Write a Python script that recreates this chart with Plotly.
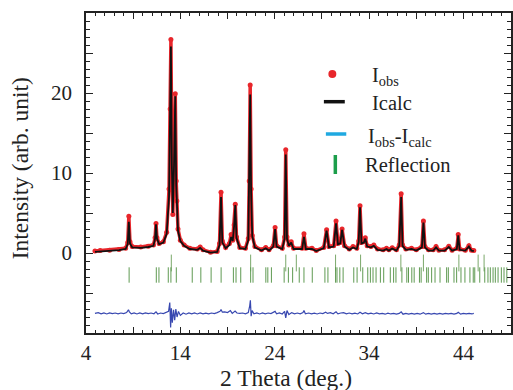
import plotly.graph_objects as go

# ---------------- data ----------------
two_theta = [4.95, 5.5, 6.5, 7.5, 8.2, 8.42, 8.54, 8.66, 8.9, 9.8, 10.6, 11.15, 11.32, 11.42, 11.52,
             11.75, 12.2, 12.55, 12.8, 12.92, 13.0, 13.1, 13.2, 13.33, 13.46, 13.56, 13.63, 13.75,
             14.0, 14.4, 15.0, 15.8, 16.1, 16.4, 17.2, 17.9, 18.15, 18.31, 18.45, 18.8, 19.2, 19.38,
             19.55, 19.7, 19.82, 19.95, 20.3, 20.9, 21.2, 21.3, 21.4, 21.5, 21.62, 21.9, 22.6, 23.05,
             23.4, 23.85, 24.04, 24.2, 24.8, 25.05, 25.17, 25.3, 25.5, 25.75, 26.0, 26.9, 27.1, 27.3,
             27.95, 28.4, 29.2, 29.5, 29.75, 30.25, 30.5, 30.7, 30.95, 31.14, 31.4, 31.9, 32.3, 32.7,
             32.9, 33.04, 33.2, 33.45, 33.6, 33.8, 34.2, 34.5, 34.9, 35.5, 35.85, 36.1, 36.45, 36.9,
             37.2, 37.4, 37.55, 37.9, 38.5, 39.0, 39.6, 39.76, 39.92, 40.3, 40.8, 41.1, 41.4, 42.0,
             42.45, 42.8, 43.3, 43.45, 43.6, 44.2, 44.58, 44.85, 45.1]
i_obs = [0.25, 0.3, 0.35, 0.45, 0.6, 1.3, 4.6, 1.4, 0.8, 0.75, 0.85, 1.0, 1.9, 3.7, 1.9,
         1.2, 1.4, 2.6, 8.0, 18.0, 26.7, 12.0, 4.8, 10.5, 19.9, 9.0, 6.5, 3.0,
         1.6, 1.0, 0.6, 0.5, 0.75, 0.4, 0.1, 0.2, 1.2, 7.6, 1.5, 0.7, 1.2, 2.3,
         1.6, 3.5, 6.1, 2.0, 0.7, 0.6, 1.8, 9.0, 21.0, 8.0, 2.2, 0.8, 0.4, 0.7,
         0.4, 0.9, 3.2, 0.9, 0.6, 2.0, 12.9, 2.0, 1.0, 1.4, 0.6, 0.6, 2.4, 0.6,
         0.6, 0.3, 0.7, 2.9, 0.8, 0.9, 4.0, 1.2, 1.3, 3.0, 0.9, 0.5, 0.8, 0.6,
         1.5, 5.9, 1.3, 1.4, 1.9, 0.9, 0.8, 1.0, 0.5, 0.4, 0.6, 0.4, 0.65, 0.4,
         1.0, 7.4, 1.0, 0.5, 0.6, 0.4, 0.8, 4.0, 0.8, 0.4, 0.4, 0.8, 0.35, 0.4,
         0.85, 0.35, 0.6, 2.3, 0.5, 0.35, 0.9, 0.35, 0.3]
i_calc = [0.15, 0.2, 0.25, 0.35, 0.5, 1.1, 3.9, 1.2, 0.7, 0.65, 0.75, 0.9, 1.8, 3.6, 1.8,
          1.1, 1.3, 2.4, 7.0, 17.0, 25.8, 11.0, 5.0, 11.0, 19.6, 8.5, 6.2, 2.8,
          1.5, 0.9, 0.5, 0.4, 0.65, 0.3, 0.05, 0.15, 1.0, 7.0, 1.3, 0.6, 1.0, 2.0,
          1.5, 3.4, 6.0, 1.9, 0.6, 0.5, 1.6, 8.5, 19.8, 7.5, 2.1, 0.7, 0.3, 0.6,
          0.3, 0.8, 3.0, 0.8, 0.5, 1.8, 12.3, 1.8, 0.9, 1.3, 0.5, 0.5, 2.0, 0.5,
          0.5, 0.25, 0.6, 2.8, 0.7, 0.8, 3.7, 1.1, 1.2, 2.9, 0.8, 0.4, 0.7, 0.5,
          1.4, 5.7, 1.2, 1.3, 1.8, 0.8, 0.7, 0.9, 0.4, 0.3, 0.5, 0.3, 0.55, 0.3,
          0.9, 7.0, 0.9, 0.4, 0.5, 0.3, 0.7, 3.8, 0.7, 0.3, 0.3, 0.7, 0.3, 0.3,
          0.75, 0.3, 0.5, 2.2, 0.4, 0.3, 0.8, 0.3, 0.25]

diff_theta = [4.95, 5.3, 5.6, 5.9, 6.2, 6.5, 6.8, 7.1, 7.4, 7.7, 8.0, 8.3, 8.5, 8.6, 8.8, 9.1, 9.4,
              9.7, 10.0, 10.3, 10.6, 10.9, 11.2, 11.42, 11.6, 11.9, 12.2, 12.5, 12.75, 12.88, 12.97,
              13.05, 13.15, 13.28, 13.4, 13.52, 13.65, 13.8, 14.0, 14.3, 14.6, 14.9, 15.2, 15.5,
              15.8, 16.1, 16.4, 16.7, 17.0, 17.3, 17.6, 17.9, 18.2, 18.31, 18.45, 18.7, 19.0, 19.3,
              19.5, 19.8, 20.0, 20.3, 20.6, 20.9, 21.2, 21.35, 21.42, 21.5, 21.6, 21.8, 22.1, 22.4,
              22.7, 23.0, 23.3, 23.6, 23.9, 24.04, 24.2, 24.5, 24.8, 25.05, 25.17, 25.3, 25.5, 25.8,
              26.1, 26.4, 26.7, 27.0, 27.1, 27.25, 27.6, 27.9, 28.2, 28.5, 28.8, 29.1, 29.4, 29.6,
              29.9, 30.2, 30.5, 30.7, 31.0, 31.3, 31.6, 31.9, 32.2, 32.5, 32.8, 33.04, 33.3, 33.6,
              33.9, 34.2, 34.5, 34.8, 35.1, 35.4, 35.7, 36.0, 36.3, 36.6, 36.9, 37.2, 37.4, 37.6,
              37.9, 38.2, 38.5, 38.8, 39.1, 39.4, 39.76, 40.0, 40.3, 40.6, 40.9, 41.2, 41.5, 41.8,
              42.1, 42.4, 42.7, 43.0, 43.3, 43.45, 43.7, 44.0, 44.3, 44.6, 44.9, 45.1]
diff_values = [-7.55, -7.45, -7.6, -7.5, -7.62, -7.48, -7.58, -7.5, -7.6, -7.5, -7.58, -7.45, -7.1,
               -7.35, -7.6, -7.5, -7.62, -7.5, -7.6, -7.48, -7.58, -7.5, -7.6, -7.35, -7.62, -7.5,
               -7.58, -7.45, -7.3, -6.2, -9.3, -6.9, -8.7, -7.1, -8.4, -7.0, -8.0, -7.3, -7.8, -7.5,
               -7.65, -7.5, -7.6, -7.5, -7.62, -7.5, -7.6, -7.52, -7.6, -7.5, -7.58, -7.45, -7.3,
               -7.05, -7.4, -7.35, -7.45, -7.2, -7.55, -7.25, -7.5, -7.55, -7.5, -7.6, -7.45, -6.6,
               -5.9, -7.9, -7.2, -7.6, -7.5, -7.62, -7.5, -7.6, -7.5, -7.58, -7.45, -7.3, -7.6, -7.5,
               -7.62, -7.3, -8.1, -7.2, -7.7, -7.45, -7.6, -7.5, -7.6, -7.45, -7.2, -7.6, -7.5, -7.6,
               -7.52, -7.62, -7.5, -7.58, -7.4, -7.55, -7.45, -7.6, -7.35, -7.6, -7.5, -7.45, -7.6,
               -7.5, -7.6, -7.52, -7.62, -7.4, -7.6, -7.45, -7.6, -7.52, -7.62, -7.5, -7.6, -7.55,
               -7.65, -7.52, -7.62, -7.55, -7.65, -7.55, -7.35, -7.65, -7.55, -7.65, -7.55, -7.65,
               -7.55, -7.65, -7.45, -7.65, -7.55, -7.65, -7.55, -7.65, -7.55, -7.65, -7.55, -7.6,
               -7.55, -7.65, -7.55, -7.4, -7.65, -7.55, -7.62, -7.55, -7.62, -7.55]

refl_strong = [13.04, 21.45, 25.17, 26.29, 30.45, 33.1, 37.37, 39.76, 43.52, 45.56, 46.19]
refl_all = [8.57, 11.45, 11.73, 12.72, 13.0, 13.57, 15.26, 16.17, 17.26, 18.32, 19.62, 19.9, 20.4,
            21.45, 21.7, 23.06, 23.27, 23.65, 25.0, 25.45, 25.9, 26.6, 27.1, 27.98, 29.32, 29.64,
            30.45, 30.6, 30.9, 31.25, 32.38, 32.73, 33.33, 33.86, 34.14, 34.42, 34.74, 35.2, 35.55,
            36.25, 36.6, 36.85, 37.48, 38.0, 38.18, 38.53, 38.78, 39.34, 39.52, 40.1, 40.28, 40.63,
            40.99, 41.52, 42.22, 42.4, 43.0, 43.28, 43.74, 44.16, 44.69, 45.04, 45.2, 45.73, 46.26,
            46.6, 46.85, 47.14, 47.38, 47.67, 48.02, 48.3, 48.6]

x_tickvals = [4, 9, 14, 19, 24, 29, 34, 39, 44]
x_ticktext = ["4", "", "14", "", "24", "", "34", "", "44"]
y_tickvals = [-5, 0, 5, 10, 15, 20, 25]
y_ticktext = ["", "0", "", "10", "", "20", ""]

# ---------------- figure ----------------
W, H = 513, 390
ML, MR, MT, MB = 86, 0, 13, 57
PW, PH = W - ML - MR, H - MT - MB

def px(xp):
    return (xp - ML) / PW

def py(yp):
    return (H - MB - yp) / PH

fig = go.Figure()

fig.add_trace(go.Scatter(x=two_theta, y=i_obs, mode="lines+markers",
                         line=dict(color="#e8262b", width=3.5),
                         marker=dict(color="#e8262b", size=5),
                         showlegend=False))
fig.add_trace(go.Scatter(x=two_theta, y=i_calc, mode="lines",
                         line=dict(color="#111111", width=1.8),
                         showlegend=False))
fig.add_trace(go.Scatter(x=refl_strong, y=[-1.25] * len(refl_strong), mode="markers",
                         marker=dict(symbol="line-ns", size=12,
                                     line=dict(color="#7aa86a", width=1)),
                         showlegend=False))
fig.add_trace(go.Scatter(x=refl_all, y=[-2.75] * len(refl_all), mode="markers",
                         marker=dict(symbol="line-ns", size=11,
                                     line=dict(color="#5f9a52", width=1)),
                         showlegend=False))
fig.add_trace(go.Scatter(x=diff_theta, y=diff_values, mode="lines",
                         line=dict(color="#3848b0", width=1.2),
                         showlegend=False))

FONT = "Liberation Serif, Times New Roman, Times, DejaVu Serif, serif"
axis_common = dict(showline=True, linecolor="#222222", linewidth=1.5, mirror="allticks",
                   ticks="inside", tickcolor="#222222", showgrid=False, zeroline=False,
                   tickfont=dict(family=FONT, size=21, color="#222222"))

fig.update_layout(
    width=W, height=H,
    margin=dict(l=ML, r=MR, t=MT, b=MB),
    paper_bgcolor="white", plot_bgcolor="white",
    font=dict(family=FONT, size=20, color="#222222"),
    xaxis=dict(range=[4, 4 + PW / 9.48], tickmode="array", tickvals=x_tickvals,
               ticktext=x_ticktext, ticklen=6, tickwidth=1,
               minor=dict(dtick=1, tick0=4, ticklen=3, ticks="inside", tickcolor="#222222"),
               ticklabelstandoff=0, **axis_common),
    yaxis=dict(range=[-10, 30], tickmode="array", tickvals=y_tickvals,
               ticktext=y_ticktext, ticklen=7, tickwidth=1,
               minor=dict(dtick=1, tick0=0, ticklen=4, ticks="inside", tickcolor="#222222"),
               ticklabelstandoff=8, **axis_common),
)

ann_font = dict(family=FONT, size=20.5, color="#222222")
title_font = dict(family=FONT, size=23.5, color="#222222")
annotations = [
    dict(text="2 Theta (deg.)", x=px(286.5), y=py(378), xref="paper", yref="paper",
         xanchor="center", yanchor="middle", showarrow=False, font=title_font),
    dict(text="Intensity (arb. unit)", x=px(20), y=py(168), xref="paper", yref="paper",
         xanchor="center", yanchor="middle", textangle=-90, showarrow=False, font=title_font),
    dict(text="I<sub>obs</sub>", x=px(371), y=py(77), xref="paper", yref="paper",
         xanchor="left", yanchor="middle", showarrow=False, font=ann_font),
    dict(text="Icalc", x=px(371), y=py(103), xref="paper", yref="paper",
         xanchor="left", yanchor="middle", showarrow=False, font=ann_font),
    dict(text="I<sub>obs</sub>-I<sub>calc</sub>", x=px(367), y=py(137), xref="paper", yref="paper",
         xanchor="left", yanchor="middle", showarrow=False, font=ann_font),
    dict(text="Reflection", x=px(364), y=py(165), xref="paper", yref="paper",
         xanchor="left", yanchor="middle", showarrow=False, font=ann_font),
]
fig.update_layout(annotations=annotations)

shapes = [
    dict(type="circle", xref="paper", yref="paper", x0=px(329.5), x1=px(337.5),
         y0=py(78), y1=py(70), fillcolor="#e8262b", line=dict(width=0)),
    dict(type="line", xref="paper", yref="paper", x0=px(325), x1=px(346),
         y0=py(101.7), y1=py(101.7), line=dict(color="#111111", width=3.5)),
    dict(type="line", xref="paper", yref="paper", x0=px(327), x1=px(347.5),
         y0=py(134), y1=py(134), line=dict(color="#1fa9e1", width=3.5)),
    dict(type="line", xref="paper", yref="paper", x0=px(336.5), x1=px(336.5),
         y0=py(155), y1=py(174), line=dict(color="#1c9e4b", width=3.5)),
]
fig.update_layout(shapes=shapes)

fig.write_html("out.html")
